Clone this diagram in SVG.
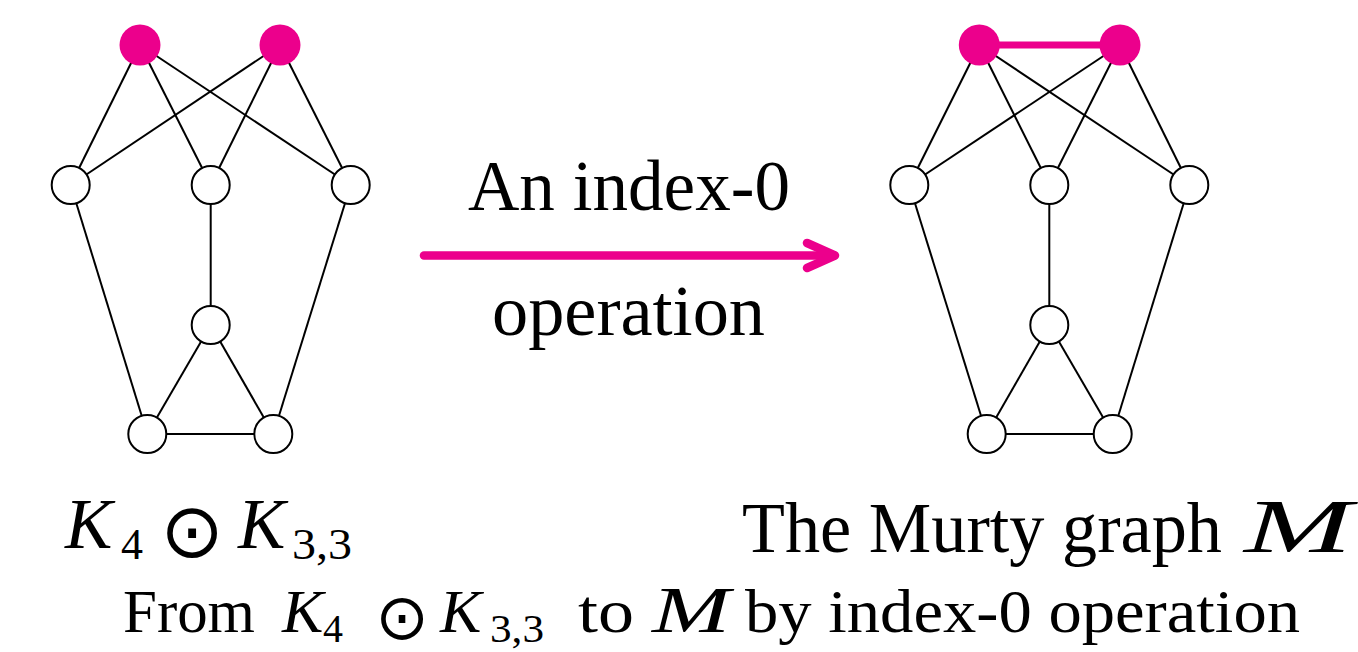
<svg xmlns="http://www.w3.org/2000/svg" width="1358" height="652" viewBox="0 0 1358 652">
<style>
.e{stroke:#000;stroke-width:2;fill:none}
.n{fill:#fff;stroke:#000;stroke-width:2}
.m{fill:#EC008C}
.t{font-family:"Liberation Serif","DejaVu Serif",serif;fill:#000}
.i{font-style:italic}
.s{font-family:"DejaVu Sans",sans-serif;fill:#000}
</style>
<g id="connectors">
<g id="left-edges" class="e">
<line x1="140" y1="45" x2="70.7" y2="185"/>
<line x1="140" y1="45" x2="210.7" y2="185"/>
<line x1="140" y1="45" x2="350.7" y2="185"/>
<line x1="280" y1="45" x2="70.7" y2="185"/>
<line x1="280" y1="45" x2="210.7" y2="185"/>
<line x1="280" y1="45" x2="350.7" y2="185"/>
<line x1="70.7" y1="185" x2="147.3" y2="434"/>
<line x1="210.7" y1="185" x2="210.7" y2="325"/>
<line x1="350.7" y1="185" x2="273.3" y2="434"/>
<line x1="210.7" y1="325" x2="147.3" y2="434"/>
<line x1="210.7" y1="325" x2="273.3" y2="434"/>
<line x1="147.3" y1="434" x2="273.3" y2="434"/>
</g>
<g id="right-edges" class="e">
<line x1="979.3" y1="45" x2="909.3" y2="185"/>
<line x1="979.3" y1="45" x2="1049.3" y2="185"/>
<line x1="979.3" y1="45" x2="1189.3" y2="185"/>
<line x1="1120" y1="45" x2="909.3" y2="185"/>
<line x1="1120" y1="45" x2="1049.3" y2="185"/>
<line x1="1120" y1="45" x2="1189.3" y2="185"/>
<line x1="909.3" y1="185" x2="986.7" y2="434"/>
<line x1="1049.3" y1="185" x2="1049.3" y2="325"/>
<line x1="1189.3" y1="185" x2="1112.7" y2="434"/>
<line x1="1049.3" y1="325" x2="986.7" y2="434"/>
<line x1="1049.3" y1="325" x2="1112.7" y2="434"/>
<line x1="986.7" y1="434" x2="1112.7" y2="434"/>
</g>
<line id="added-edge" x1="979.3" y1="45" x2="1120" y2="45" stroke="#EC008C" stroke-width="7"/>
<g id="arrow" stroke="#EC008C" stroke-width="8.5" stroke-linecap="round" stroke-linejoin="round" fill="none">
<line x1="424" y1="255.5" x2="834" y2="255.5"/>
<polyline points="807,243 835,255.5 807,268"/>
</g>
</g>
<g id="left-graph">
<g id="L1"><circle class="m" cx="140" cy="45" r="20.5"/></g>
<g id="L2"><circle class="m" cx="280" cy="45" r="20.5"/></g>
<g id="L3"><circle class="n" cx="70.7" cy="185" r="19"/></g>
<g id="L4"><circle class="n" cx="210.7" cy="185" r="19"/></g>
<g id="L5"><circle class="n" cx="350.7" cy="185" r="19"/></g>
<g id="L6"><circle class="n" cx="210.7" cy="325" r="19"/></g>
<g id="L7"><circle class="n" cx="147.3" cy="434" r="19"/></g>
<g id="L8"><circle class="n" cx="273.3" cy="434" r="19"/></g>
</g>
<g id="right-graph">
<g id="R1"><circle class="m" cx="979.3" cy="45" r="20.5"/></g>
<g id="R2"><circle class="m" cx="1120" cy="45" r="20.5"/></g>
<g id="R3"><circle class="n" cx="909.3" cy="185" r="19"/></g>
<g id="R4"><circle class="n" cx="1049.3" cy="185" r="19"/></g>
<g id="R5"><circle class="n" cx="1189.3" cy="185" r="19"/></g>
<g id="R6"><circle class="n" cx="1049.3" cy="325" r="19"/></g>
<g id="R7"><circle class="n" cx="986.7" cy="434" r="19"/></g>
<g id="R8"><circle class="n" cx="1112.7" cy="434" r="19"/></g>
</g>
<g id="arrow-label">
<text class="t" x="468" y="210" font-size="71" textLength="322" lengthAdjust="spacingAndGlyphs">An index-0</text>
<text class="t" x="492" y="335" font-size="71" textLength="273" lengthAdjust="spacingAndGlyphs">operation</text>
</g>
<g id="left-label">
<text class="t i" x="65" y="548" font-size="71">K</text>
<text class="t" x="121" y="559" font-size="44">4</text>
<text class="s" x="192" y="557" font-size="76" text-anchor="middle">⊙</text>
<text class="t i" x="238" y="548" font-size="71">K</text>
<text class="t" x="292" y="559" font-size="44" textLength="60" lengthAdjust="spacingAndGlyphs">3,3</text>
</g>
<g id="right-label">
<text class="t" x="742" y="552" font-size="71" textLength="480" lengthAdjust="spacingAndGlyphs">The Murty graph</text>
<text class="t i" x="1244" y="552" font-size="76" textLength="108" lengthAdjust="spacingAndGlyphs">M</text>
</g>
<g id="caption">
<text class="t" x="123" y="632" font-size="62" textLength="132" lengthAdjust="spacingAndGlyphs">From</text>
<text class="t i" x="282" y="632" font-size="62">K</text>
<text class="t" x="323" y="642" font-size="40">4</text>
<text class="s" x="402" y="639" font-size="64" text-anchor="middle">⊙</text>
<text class="t i" x="440" y="632" font-size="62">K</text>
<text class="t" x="490" y="642" font-size="40" textLength="54" lengthAdjust="spacingAndGlyphs">3,3</text>
<text class="t" x="578" y="632" font-size="62" textLength="56" lengthAdjust="spacingAndGlyphs">to</text>
<text class="t i" x="652" y="632" font-size="66" textLength="78" lengthAdjust="spacingAndGlyphs">M</text>
<text class="t" x="745" y="632" font-size="62" textLength="555" lengthAdjust="spacingAndGlyphs">by index-0 operation</text>
</g>
</svg>
